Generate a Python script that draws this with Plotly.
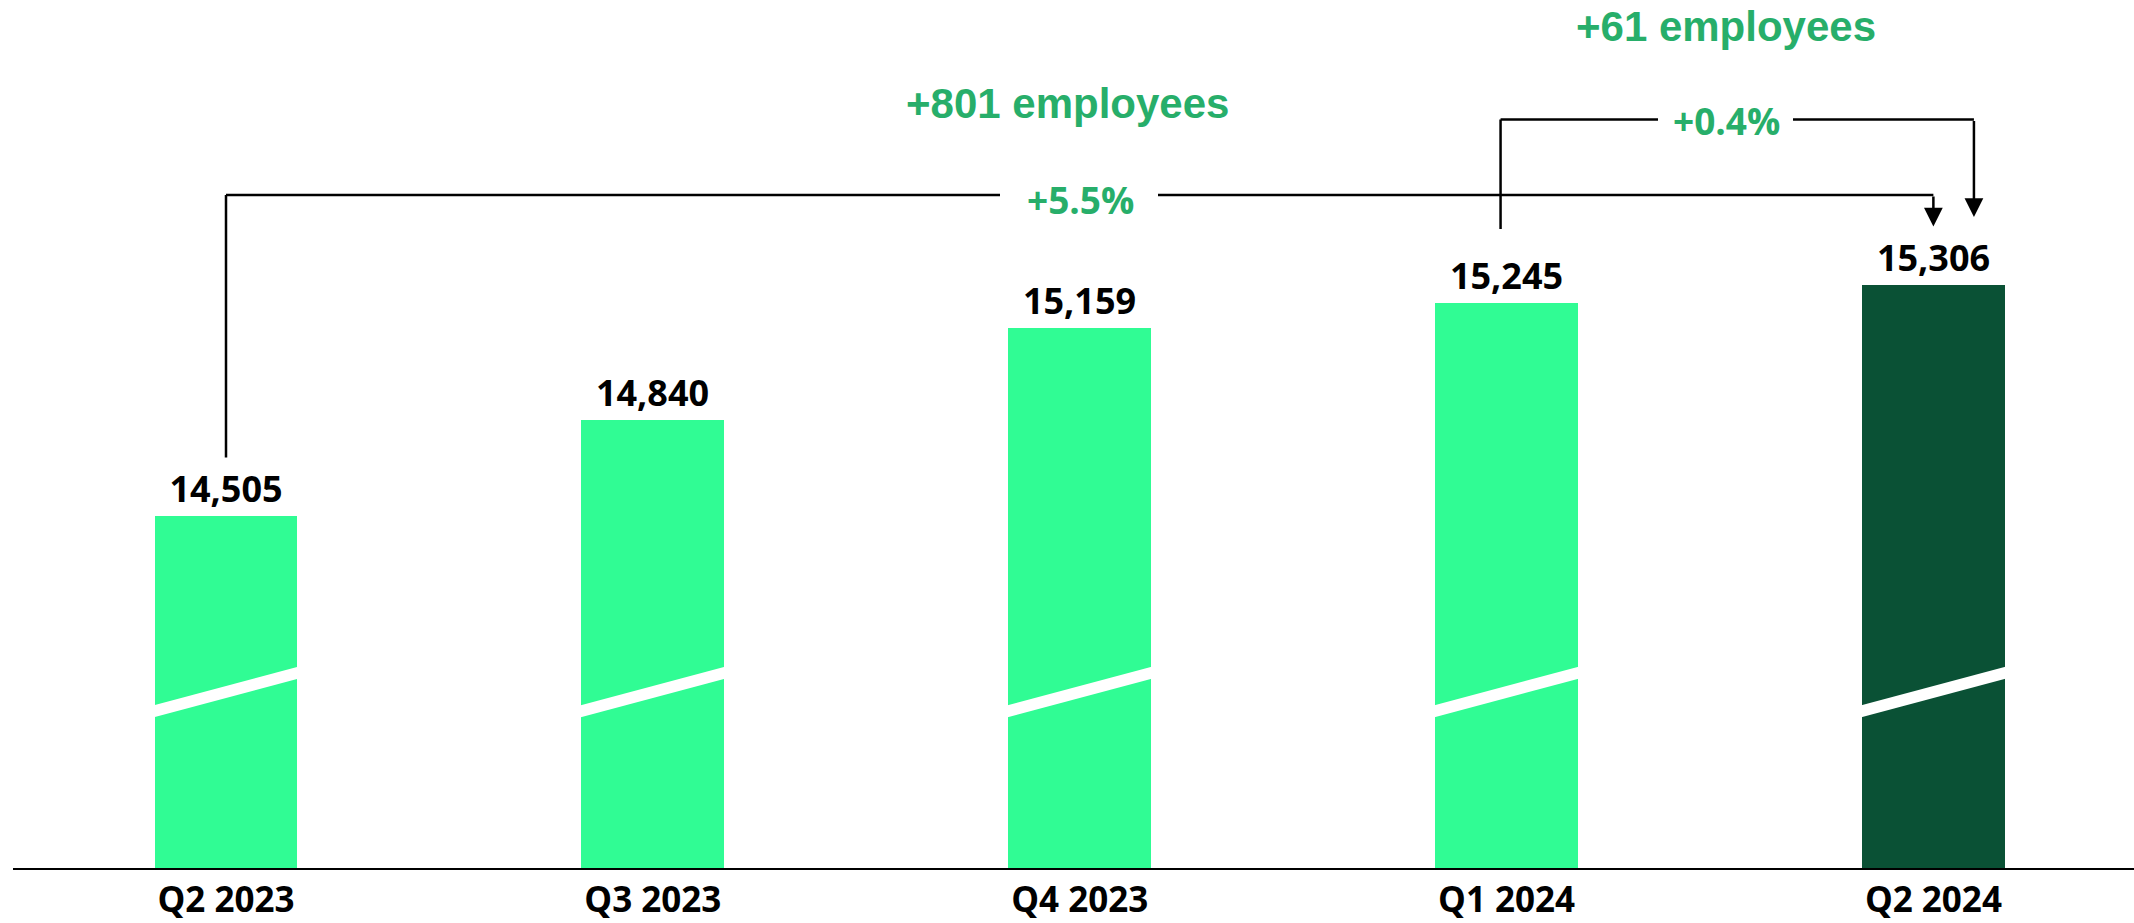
import plotly.graph_objects as go

# ---------------- data ----------------
categories = ["Q2 2023", "Q3 2023", "Q4 2023", "Q1 2024", "Q2 2024"]
employees = [14505, 14840, 15159, 15245, 15306]
bar_colors = ["#30FC94", "#30FC94", "#30FC94", "#30FC94", "#0A5135"]
change_total_label = "+801 employees"
change_total_pct = "+5.5%"
change_qoq_label = "+61 employees"
change_qoq_pct = "+0.4%"

# ---------------- layout constants ----------------
W, H = 2134, 923
M_L, M_R, M_T, M_B = 13, 0, 0, 55
X_RANGE = [-0.499, 4.47]
Y_MIN = 13286
PX_PER_UNIT = 0.2884
PLOT_H = H - M_T - M_B
Y_RANGE = [Y_MIN, Y_MIN + PLOT_H / PX_PER_UNIT]
BAR_W = 0.335
GREEN_TXT = "#27AE6A"
LINE_W = 2.5

PLOT_W = W - M_L - M_R
def px_x(px):
    return X_RANGE[0] + (px - M_L) / PLOT_W * (X_RANGE[1] - X_RANGE[0])
def px_y(py):
    return Y_RANGE[0] + (H - M_B - py) / PX_PER_UNIT
def dpx(p):
    return p / PX_PER_UNIT

xs = list(range(len(categories)))

fig = go.Figure()
fig.add_trace(go.Bar(
    x=xs, y=employees, width=BAR_W,
    marker=dict(color=bar_colors, line=dict(width=0)),
    text=[f"{v:,}" for v in employees],
    textposition="outside", constraintext="none",
    textfont=dict(family="Open Sans", size=36, color="black", weight="bold"),
    cliponaxis=True, hoverinfo="skip",
))

shapes = []
# axis break marks (white slanted band across each bar)
yl0, yl1 = px_y(717), px_y(705)
yr0, yr1 = px_y(679), px_y(667)
for i in xs:
    a, b = i - BAR_W / 2, i + BAR_W / 2
    ext = 0.01
    slope0 = (yr0 - yl0) / (b - a)
    slope1 = (yr1 - yl1) / (b - a)
    p = (f"M {a-ext},{yl0 - slope0*ext} L {b+ext},{yr0 + slope0*ext} "
         f"L {b+ext},{yr1 + slope1*ext} L {a-ext},{yl1 - slope1*ext} Z")
    shapes.append(dict(type="path", path=p, xref="x", yref="y",
                       fillcolor="white", line=dict(width=0), layer="above"))

def seg(x0, y0, x1, y1):
    shapes.append(dict(type="line", xref="x", yref="y", x0=x0, y0=y0, x1=x1, y1=y1,
                       line=dict(color="black", width=LINE_W)))

# bracket 1: Q2 2023 -> Q2 2024
gap = dpx(59)
lvl1 = px_y(195)
seg(0, employees[0] + gap, 0, lvl1)
seg(0, lvl1, px_x(1000), lvl1)
seg(px_x(1158), lvl1, 4, lvl1)

# bracket 2: Q1 2024 -> Q2 2024
lvl2 = px_y(119.5)
x3 = 3 - 0.014
x4b = 4 + 0.095
seg(x3, employees[3] + dpx(74), x3, lvl2)
seg(x3, lvl2, px_x(1658), lvl2)
seg(px_x(1793), lvl2, x4b, lvl2)

annotations = []
def arrow(x, y_tail, y_tip):
    annotations.append(dict(x=x, y=y_tip, ax=x, ay=y_tail, xref="x", yref="y",
                            axref="x", ayref="y", text="", showarrow=True,
                            arrowhead=2, arrowsize=1.5, arrowwidth=LINE_W,
                            arrowcolor="black", standoff=0))
arrow(4, lvl1, employees[4] + dpx(59))
arrow(x4b, lvl2, employees[4] + dpx(68.5))

def label(txt, xpx, ypx, size, family):
    annotations.append(dict(x=px_x(xpx), y=px_y(ypx), xref="x", yref="y",
                            text=txt, showarrow=False, xanchor="center", yanchor="middle",
                            font=dict(family=family, size=size, color=GREEN_TXT, weight="bold")))

label(change_total_label, 1067, 103, 42, "Liberation Sans")
label(change_qoq_label, 1725.5, 26, 42, "Liberation Sans")
label(change_total_pct, 1080, 199, 37, "Open Sans")
label(change_qoq_pct, 1726.5, 120, 37, "Open Sans")

fig.update_layout(
    width=W, height=H,
    margin=dict(l=M_L, r=M_R, t=M_T, b=M_B, pad=0),
    paper_bgcolor="white", plot_bgcolor="white",
    showlegend=False, bargap=0,
    shapes=shapes, annotations=annotations,
    xaxis=dict(range=X_RANGE, tickvals=xs, ticktext=categories,
               showline=True, linecolor="black", linewidth=2,
               showgrid=False, zeroline=False, ticks="", ticklabelstandoff=0,
               automargin=False,
               tickfont=dict(family="Open Sans", size=35, color="black", weight="bold")),
    yaxis=dict(range=Y_RANGE, visible=False, showgrid=False, zeroline=False,
               automargin=False),
)

fig.write_html("out.html", config={"displayModeBar": False},
               post_script="document.body.style.margin='0';document.body.style.overflow='hidden';")
